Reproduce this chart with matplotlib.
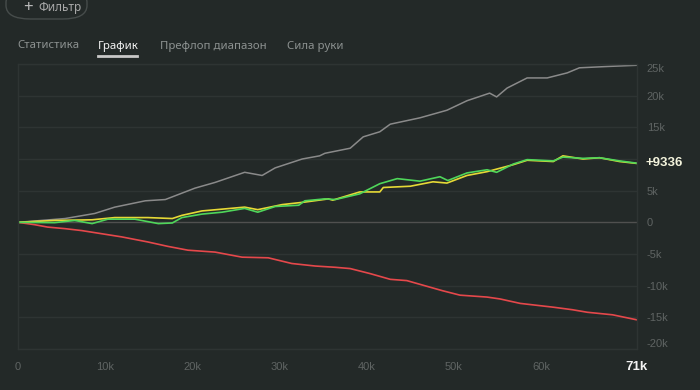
import matplotlib
matplotlib.use("Agg")
import matplotlib.pyplot as plt
from matplotlib.patches import FancyBboxPatch
from matplotlib.ticker import FuncFormatter

# hands played vs winnings (both in units)
gray_x = [0, 5400, 8800, 11100, 14600, 16900, 20300, 22600, 26000, 28000, 29500, 32600,
          34600, 35200, 38100, 39600, 41500, 42700, 46100, 49200, 51500, 54100, 54900,
          56100, 58400, 60700, 63000, 64400, 67500, 71000]
gray_y = [0, 600, 1400, 2400, 3400, 3600, 5400, 6300, 7900, 7400, 8600, 10000,
          10500, 10900, 11700, 13500, 14300, 15500, 16500, 17700, 19200, 20400, 19800,
          21200, 22800, 22800, 23600, 24400, 24600, 24800]

green_x = [0, 4200, 6500, 8500, 10300, 13400, 16100, 17700, 18800, 21100, 23400, 26000,
           27500, 29500, 32200, 32900, 35200, 36400, 39200, 41500, 43500, 46100, 48400,
           49300, 51500, 53800, 54900, 56800, 58400, 61400, 62500, 64800, 66700, 69000, 71000]
green_y = [0, -50, 300, -200, 500, 500, -200, -100, 750, 1300, 1600, 2200,
           1600, 2500, 2700, 3400, 3700, 3600, 4500, 6100, 6900, 6500, 7200,
           6600, 7800, 8300, 7900, 9200, 9900, 9700, 10300, 10100, 10200, 9700, 9336]

yellow_x = [0, 4200, 8500, 11100, 14900, 17700, 18800, 21100, 26000, 27500, 30300, 32900,
            35600, 36100, 39200, 41500, 41900, 45000, 47600, 49200, 51500, 53800, 56800,
            58400, 61400, 62500, 64800, 66700, 69000, 71000]
yellow_y = [0, 300, 400, 750, 750, 600, 1100, 1800, 2400, 2000, 2800, 3200,
            3700, 3500, 4800, 4800, 5500, 5700, 6400, 6200, 7400, 8000, 9100,
            9800, 9600, 10500, 10000, 10200, 9600, 9300]

red_x = [0, 1900, 3400, 5400, 7300, 9600, 11900, 14900, 17200, 19500, 22600, 25700,
         28700, 31400, 34100, 36400, 38100, 40400, 42700, 44600, 46900, 48700, 50700,
         53800, 55300, 57600, 61400, 63600, 65300, 68200, 71000]
red_y = [0, -370, -750, -1000, -1300, -1800, -2300, -3100, -3800, -4400, -4700, -5500,
         -5600, -6500, -6900, -7100, -7300, -8100, -9000, -9200, -10100, -10800, -11500,
         -11800, -12100, -12800, -13400, -13800, -14200, -14600, -15400]

y_ticks = [-20000, -15000, -10000, -5000, 0, 5000, 10000, 15000, 20000, 25000]
x_ticks = [0, 10000, 20000, 30000, 40000, 50000, 60000]
x_total = 71000
tabs = ["Статистика", "График", "Префлоп диапазон", "Сила руки"]
tab_x = [17, 98, 160, 287]

BG = "#232928"
GRID = "#2e3433"
MUTED = "#5f6463"

fig = plt.figure(figsize=(7, 3.9), dpi=100, facecolor=BG)
ax = fig.add_axes([18 / 700, 41 / 390, 619 / 700, 285 / 390], facecolor=BG)

ax.plot(gray_x, gray_y, color="#8a8a8a", lw=1.1)
ax.plot(red_x, red_y, color="#e5484b", lw=1.2)
ax.plot(yellow_x, yellow_y, color="#e6d936", lw=1.2)
ax.plot(green_x, green_y, color="#4fd65a", lw=1.2)

ax.set_xlim(0, x_total)
ax.set_ylim(-20000, 25000)
for v in y_ticks:
    ax.axhline(v, color="#50504f" if v == 0 else GRID, lw=1, zorder=0)

for s in ax.spines.values():
    s.set_color(GRID)
    s.set_linewidth(1)

final = green_y[-1]


def kfmt(v, p):
    if v == 0:
        return "0"
    return f"{int(v / 1000)}k"


def yfmt(v, p):
    # the tick next to the final value label is hidden
    if abs(v - final) < 2500:
        return ""
    return kfmt(v, p)


ax.yaxis.tick_right()
ax.set_yticks(y_ticks)
ax.yaxis.set_major_formatter(FuncFormatter(yfmt))
ax.set_xticks(x_ticks)
ax.xaxis.set_major_formatter(FuncFormatter(kfmt))
ax.tick_params(length=0, colors=MUTED, labelsize=8)
ax.tick_params(axis="y", pad=7)
ax.tick_params(axis="x", pad=9)
for t in ax.get_yticklabels() + ax.get_xticklabels():
    t.set_family("Liberation Sans")
ylabels = ax.get_yticklabels()
ylabels[-1].set_va("top")
ylabels[0].set_va("bottom")

ax.annotate(f"{x_total // 1000}k", (x_total, -20000), xytext=(0, -9),
            textcoords="offset points", ha="center", va="top", fontsize=9.5,
            fontweight="bold", color="#f2f2f2", family="Liberation Sans",
            annotation_clip=False)
ax.annotate(f"+{final}", (x_total, final), xytext=(6, 0),
            textcoords="offset points", ha="left", va="center", fontsize=9.5,
            fontweight="bold", color="#f3f3dc", family="Liberation Sans",
            annotation_clip=False)

# header: filter pill and tabs
pill = FancyBboxPatch((6 / 700, 1 - 19 / 390), 81 / 700, 30 / 390,
                      boxstyle="round,pad=0,rounding_size=0.035",
                      transform=fig.transFigure, fc=BG, ec="#464c4b", lw=1)
fig.patches.append(pill)
fig.text(23 / 700, 1 - 8 / 390, "+", color="#b8b8b8", fontsize=12,
         va="center", family="Noto Sans")
fig.text(38 / 700, 1 - 8 / 390, "Фильтр", color="#a8a8a8", fontsize=8.5,
         va="center", family="Noto Sans")
for name, x in zip(tabs, tab_x):
    active = name == "График"
    fig.text(x / 700, 1 - 46 / 390, name, fontsize=8.2,
             color="#f0f0f0" if active else "#8c9190",
             fontweight="bold" if active else "normal",
             va="center", family="Noto Sans")
fig.add_artist(plt.Line2D([98 / 700, 137 / 700], [1 - 56 / 390, 1 - 56 / 390],
                          color="#c8c8c8", lw=2, transform=fig.transFigure))

fig.savefig("out.png", dpi=100, facecolor=BG)
